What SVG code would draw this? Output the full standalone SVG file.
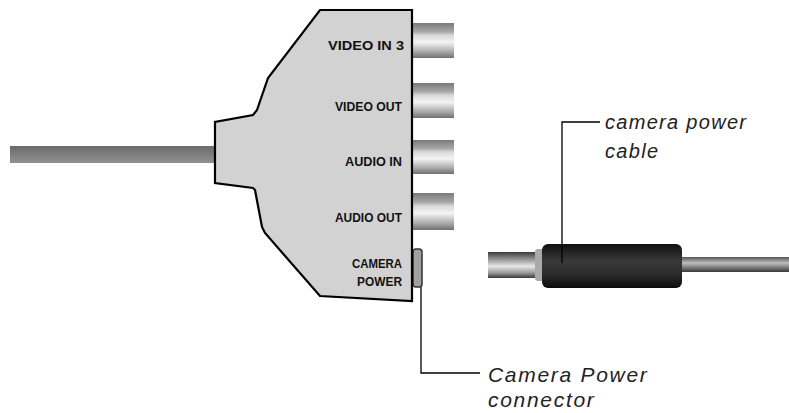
<svg xmlns="http://www.w3.org/2000/svg" width="789" height="413" viewBox="0 0 789 413">
<style>
.lbl{font-family:"Liberation Sans",Arial,sans-serif;font-weight:bold;font-size:13px;fill:#111;text-anchor:end}
.cap{font-family:"Liberation Sans",Arial,sans-serif;font-style:italic;fill:#222}
.lead{fill:none;stroke:#000;stroke-width:1.3}
</style>
<defs>
<linearGradient id="jack" x1="0" y1="0" x2="0" y2="1">
<stop offset="0" stop-color="#7a7a7a"/>
<stop offset="0.25" stop-color="#a8a8a8"/>
<stop offset="0.35" stop-color="#d8d8d8"/>
<stop offset="0.55" stop-color="#f4f4f4"/>
<stop offset="0.8" stop-color="#b0b0b0"/>
<stop offset="1" stop-color="#707070"/>
</linearGradient>
<linearGradient id="cable" x1="0" y1="0" x2="0" y2="1">
<stop offset="0" stop-color="#6a6a6a"/>
<stop offset="0.45" stop-color="#7c7c7c"/>
<stop offset="1" stop-color="#919191"/>
</linearGradient>
<linearGradient id="cable2" x1="0" y1="0" x2="0" y2="1">
<stop offset="0" stop-color="#555"/>
<stop offset="0.4" stop-color="#bdbdbd"/>
<stop offset="1" stop-color="#3a3a3a"/>
</linearGradient>
<linearGradient id="tip" x1="0" y1="0" x2="0" y2="1">
<stop offset="0" stop-color="#3c3c3c"/>
<stop offset="0.3" stop-color="#9a9a9a"/>
<stop offset="0.55" stop-color="#e8e8e8"/>
<stop offset="0.8" stop-color="#9a9a9a"/>
<stop offset="1" stop-color="#3a3a3a"/>
</linearGradient>
<linearGradient id="body" x1="0" y1="0" x2="0" y2="1">
<stop offset="0" stop-color="#111"/>
<stop offset="0.4" stop-color="#3a3a3a"/>
<stop offset="0.7" stop-color="#2a2a2a"/>
<stop offset="1" stop-color="#0c0c0c"/>
</linearGradient>
</defs>
<rect width="789" height="413" fill="#fff"/>

<g id="left-cable">
<rect x="10" y="146" width="207" height="17" fill="url(#cable)"/>
</g>

<g id="jacks">
<rect x="412" y="23" width="42" height="35" fill="url(#jack)"/>
<rect x="412" y="83" width="42" height="35" fill="url(#jack)"/>
<rect x="412" y="140" width="42" height="34" fill="url(#jack)"/>
<rect x="412" y="193" width="42" height="37" fill="url(#jack)"/>
</g>

<g id="camera-power-connector">
<rect x="413" y="249" width="9" height="38" rx="3" fill="#a0a0a0" stroke="#333" stroke-width="1.5"/>
</g>

<g id="breakout-box">
<polygon points="320,10 412,10 412,301 320,296 265,233 262,227 255,190 253,188 215,183 215,122 253,115 257,110 268,78" fill="#d2d2d2" stroke="#000" stroke-width="2.2" stroke-linejoin="miter"/>
<text class="lbl" x="404" y="50" textLength="76" lengthAdjust="spacingAndGlyphs">VIDEO IN 3</text>
<text class="lbl" x="402" y="111" textLength="67" lengthAdjust="spacingAndGlyphs">VIDEO OUT</text>
<text class="lbl" x="402" y="166" textLength="57" lengthAdjust="spacingAndGlyphs">AUDIO IN</text>
<text class="lbl" x="402" y="222" textLength="67" lengthAdjust="spacingAndGlyphs">AUDIO OUT</text>
<text class="lbl" x="402" y="268" textLength="50" lengthAdjust="spacingAndGlyphs">CAMERA</text>
<text class="lbl" x="402" y="286" textLength="45" lengthAdjust="spacingAndGlyphs">POWER</text>
</g>

<g id="camera-power-cable">
<rect x="682" y="257" width="107" height="15" fill="url(#cable2)"/>
<rect x="488" y="252" width="50" height="26" fill="url(#tip)"/>
<rect x="535" y="249" width="10" height="32" rx="3" fill="#aaa"/>
<rect x="542" y="244" width="140" height="44" rx="6" fill="url(#body)"/>
</g>

<g id="connectors">
<polyline class="lead" points="600,122 562,122 562,263"/>
<polyline class="lead" points="421,287 421,373 480,373"/>
</g>

<g id="captions">
<text class="cap" x="605" y="129" font-size="20" letter-spacing="1.3">camera power</text>
<text class="cap" x="605" y="158" font-size="20" letter-spacing="1.3">cable</text>
<text class="cap" x="488" y="382" font-size="21" letter-spacing="1.7">Camera Power</text>
<text class="cap" x="488" y="407" font-size="21" letter-spacing="1.7">connector</text>
</g>
</svg>
